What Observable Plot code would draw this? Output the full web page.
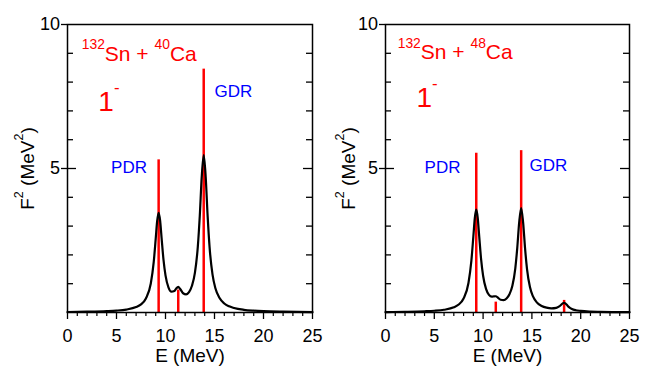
<!DOCTYPE html>
<html><head><meta charset="utf-8">
<script src="https://cdn.jsdelivr.net/npm/d3@7"></script>
<script src="https://cdn.jsdelivr.net/npm/@observablehq/plot@0.6"></script>
<style>
body{margin:0;background:#fff;}
#chart{display:flex;width:654px;height:382px;}
</style></head><body><div id="chart"></div>
<script>
// ---- tick values ----
const xMajorTicks = [0, 5, 10, 15, 20, 25];
const xMinorTicks = [1,2,3,4,6,7,8,9,11,12,13,14,16,17,18,19,21,22,23,24];
const yLabelTicks = [5, 10];
const yMinorTicks = [1,2,3,4,6,7,8,9];
const yMidTicks = [5];

// ---- left panel: 132Sn + 40Ca ----
const leftStickE = [9.3, 11.3, 13.9];
const leftStickF = [5.3, 0.78, 8.45];
const leftCurveE = [0,2,4,5,6,7,7.5,8,8.5,8.8,9.0,9.15,9.3,9.45,9.6,9.8,10,10.3,10.6,10.9,11.1,11.3,11.5,11.8,12.1,12.4,12.7,13.0,13.3,13.5,13.7,13.9,14.1,14.3,14.5,14.8,15.1,15.5,16,16.5,17,18,19,20,22,25];
const leftCurveF = [0.018,0.027,0.046,0.065,0.102,0.187,0.283,0.484,1.008,1.757,2.557,3.178,3.464,3.195,2.591,1.815,1.290,0.876,0.724,0.749,0.836,0.887,0.818,0.668,0.631,0.711,0.928,1.375,2.297,3.369,4.726,5.465,4.714,3.345,2.259,1.313,0.833,0.510,0.314,0.214,0.155,0.093,0.063,0.045,0.027,0.015];

// ---- right panel: 132Sn + 48Ca ----
const rightStickE = [9.3, 11.3, 13.9, 18.3];
const rightStickF = [5.53, 0.36, 5.62, 0.42];
const rightCurveE = [0,2,4,5,6,7,7.5,8,8.5,8.8,9.0,9.15,9.3,9.45,9.6,9.8,10,10.3,10.6,10.9,11.1,11.3,11.5,11.8,12.1,12.4,12.7,13.0,13.3,13.5,13.7,13.9,14.1,14.3,14.5,14.8,15.1,15.5,16,16.5,17,17.5,17.8,18.0,18.15,18.3,18.45,18.6,18.8,19.1,19.5,20,21,22,25];
const rightCurveF = [0.015,0.024,0.042,0.060,0.096,0.181,0.278,0.484,1.026,1.802,2.633,3.278,3.572,3.287,2.652,1.834,1.276,0.818,0.612,0.550,0.561,0.565,0.520,0.443,0.431,0.488,0.632,0.927,1.536,2.243,3.140,3.629,3.132,2.225,1.508,0.882,0.566,0.353,0.227,0.167,0.143,0.161,0.211,0.271,0.318,0.338,0.311,0.257,0.188,0.122,0.079,0.056,0.034,0.025,0.013];

// ---- texts ----
const leftTitle = "^{132}Sn + ^{40}Ca";
const rightTitle = "^{132}Sn + ^{48}Ca";
const multipolarity = "1^{-}";
const pdrLabel = "PDR";
const gdrLabel = "GDR";
const xTitle = "E (MeV)";
const yTitle = "F^{2} (MeV^{2})";

const FONT = "'Liberation Sans', Arial, Helvetica, sans-serif";

function panel(cfg) {
  const W = 327, H = 382;
  const plotW = W - cfg.ml - cfg.mr, plotH = H - cfg.mt - cfg.mb;
  const curve = cfg.curveE.map((E, i) => ({E, F: cfg.curveF[i]}));
  const sticks = cfg.stickE.map((E, i) => ({E, F: cfg.stickF[i]}));
  return Plot.plot({
    width: W, height: H,
    marginLeft: cfg.ml, marginRight: cfg.mr, marginTop: cfg.mt, marginBottom: cfg.mb,
    x: {domain: [0, 25]},
    y: {domain: [0, 10]},
    style: {fontFamily: FONT, background: "white", color: "black", overflow: "visible"},
    marks: [
      Plot.ruleX(sticks, {x: "E", y1: 0, y2: "F", stroke: "#ff0000", strokeWidth: 2.5}),
      Plot.line(curve, {x: "E", y: "F", stroke: "black", strokeWidth: 2.2, curve: "monotone-x"}),
      Plot.frame({stroke: "black", strokeWidth: 1.5}),
      Plot.axisX(xMajorTicks, {tickSize: 7, tickPadding: 10, fontSize: 18, label: null, strokeWidth: 1.3}),
      Plot.tickX(xMinorTicks, {x: d => d, insetTop: plotH, insetBottom: -4, strokeWidth: 1.2}),
      Plot.axisY(yLabelTicks, {tickSize: 6, tickPadding: 1.5, fontSize: 18, label: null, strokeWidth: 1.3}),
      Plot.tickY(yMinorTicks, {y: d => d, insetRight: plotW - 6, strokeWidth: 1.3}),
      Plot.tickY(yMidTicks, {y: d => d, insetRight: plotW - 9, strokeWidth: 1.3}),
      Plot.tickY(yMinorTicks, {y: d => d, insetLeft: plotW - 6, strokeWidth: 1.3}),
      Plot.tickY(yMidTicks, {y: d => d, insetLeft: plotW - 9, strokeWidth: 1.3}),
      Plot.text([cfg.title], {x: cfg.titlePos[0], y: cfg.titlePos[1], text: d => d, fill: "#ff0000", fontSize: 21, textAnchor: "start", lineAnchor: "bottom"}),
      Plot.text([multipolarity], {x: cfg.onePos[0], y: cfg.onePos[1], text: d => d, fill: "#ff0000", fontSize: 28, textAnchor: "start", lineAnchor: "bottom"}),
      Plot.text([pdrLabel], {x: cfg.pdrPos[0], y: cfg.pdrPos[1], text: d => d, fill: "#0000ff", fontSize: 17, textAnchor: "start", lineAnchor: "bottom"}),
      Plot.text([gdrLabel], {x: cfg.gdrPos[0], y: cfg.gdrPos[1], text: d => d, fill: "#0000ff", fontSize: 17, textAnchor: "start", lineAnchor: "bottom"}),
      Plot.text([xTitle], {frameAnchor: "bottom", text: d => d, fontSize: 19, textAnchor: "middle", lineAnchor: "bottom", dy: 49}),
      Plot.text([yTitle], {frameAnchor: "left", text: d => d, fontSize: 19, rotate: -90, textAnchor: "middle", lineAnchor: "bottom", dx: cfg.yTitleDx})
    ]
  });
}

function applySup(svg) {
  svg.querySelectorAll("text").forEach(t => {
    const s = t.textContent;
    if (!s.includes("^{")) return;
    const fs = parseFloat(getComputedStyle(t).fontSize) || 16;
    const parts = s.split(/(\^\{[^}]*\})/).filter(p => p.length);
    while (t.firstChild) t.removeChild(t.firstChild);
    let raised = 0;
    for (const p of parts) {
      const ts = document.createElementNS("http://www.w3.org/2000/svg", "tspan");
      if (p.startsWith("^{")) {
        const txt = p.slice(2, -1);
        const isMinus = txt === "-";
        const size = isMinus ? fs * 0.6 : fs * 0.66;
        const r = isMinus ? fs * 0.64 : fs * 0.53;
        ts.setAttribute("font-size", size);
        ts.setAttribute("dy", -r);
        ts.textContent = txt;
        raised = r;
      } else {
        if (raised) ts.setAttribute("dy", raised);
        raised = 0;
        ts.textContent = p;
      }
      t.appendChild(ts);
    }
  });
}

const chart = document.getElementById("chart");
const left = panel({
  ml: 67, mr: 15, mt: 24, mb: 70,
  stickE: leftStickE, stickF: leftStickF, curveE: leftCurveE, curveF: leftCurveF,
  title: leftTitle, titlePos: [1.45, 8.75], onePos: [3.15, 7.0],
  pdrPos: [4.45, 4.85], gdrPos: [15.0, 7.48], yTitleDx: -34
});
const right = panel({
  ml: 58, mr: 25, mt: 24, mb: 70,
  stickE: rightStickE, stickF: rightStickF, curveE: rightCurveE, curveF: rightCurveF,
  title: rightTitle, titlePos: [1.25, 8.81], onePos: [3.18, 7.13],
  pdrPos: [4.0, 4.84], gdrPos: [14.75, 4.93], yTitleDx: -31
});
chart.appendChild(left);
chart.appendChild(right);
applySup(left);
applySup(right);
</script>
</body></html>
